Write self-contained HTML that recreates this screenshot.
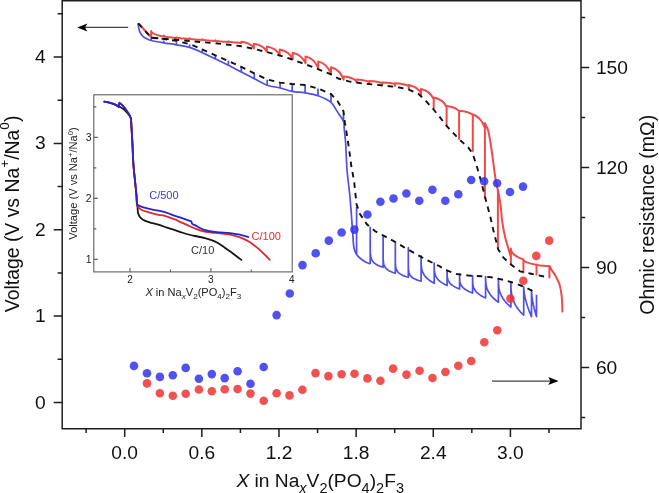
<!DOCTYPE html>
<html><head><meta charset="utf-8"><style>
html,body{margin:0;padding:0;background:#fff;width:659px;height:493px;overflow:hidden}
body{position:relative;font-family:"Liberation Sans",sans-serif}
</style></head><body>
<svg width="659" height="493" viewBox="0 0 659 493" style="position:absolute;left:0;top:0;will-change:transform">
<path d="M62.2,0.75 L581.0,0.75 M62.2,0 L62.2,428.7 M581.0,0 L581.0,428.7 M61.45,428.7 L581.75,428.7" stroke="#1e1e1e" stroke-width="1.5" fill="none"/>
<path d="M53.7,402.5 L62.2,402.5 M53.7,316.12 L62.2,316.12 M53.7,229.75 L62.2,229.75 M53.7,143.38 L62.2,143.38 M53.7,57 L62.2,57 M57.6,359.31 L62.2,359.31 M57.6,272.94 L62.2,272.94 M57.6,186.56 L62.2,186.56 M57.6,100.19 L62.2,100.19 M57.6,13.81 L62.2,13.81 M124.7,428.7 L124.7,436.9 M201.84,428.7 L201.84,436.9 M278.98,428.7 L278.98,436.9 M356.13,428.7 L356.13,436.9 M433.27,428.7 L433.27,436.9 M510.41,428.7 L510.41,436.9 M86.13,428.7 L86.13,433.0 M163.27,428.7 L163.27,433.0 M240.41,428.7 L240.41,433.0 M317.56,428.7 L317.56,433.0 M394.7,428.7 L394.7,433.0 M471.84,428.7 L471.84,433.0 M548.98,428.7 L548.98,433.0 M581.0,367.6 L589.2,367.6 M581.0,267.6 L589.2,267.6 M581.0,167.6 L589.2,167.6 M581.0,67.6 L589.2,67.6 M581.0,417.6 L585.2,417.6 M581.0,317.6 L585.2,317.6 M581.0,217.6 L585.2,217.6 M581.0,117.6 L585.2,117.6 M581.0,17.6 L585.2,17.6" stroke="#1e1e1e" stroke-width="1.5" fill="none"/>
<text x="45.7" y="408.6" font-family="Liberation Sans, sans-serif" font-size="19.2" text-anchor="end" fill="#111">0</text>
<text x="45.7" y="322.23" font-family="Liberation Sans, sans-serif" font-size="19.2" text-anchor="end" fill="#111">1</text>
<text x="45.7" y="235.85" font-family="Liberation Sans, sans-serif" font-size="19.2" text-anchor="end" fill="#111">2</text>
<text x="45.7" y="149.47" font-family="Liberation Sans, sans-serif" font-size="19.2" text-anchor="end" fill="#111">3</text>
<text x="45.7" y="63.1" font-family="Liberation Sans, sans-serif" font-size="19.2" text-anchor="end" fill="#111">4</text>
<text x="124.7" y="458.7" font-family="Liberation Sans, sans-serif" font-size="19.2" text-anchor="middle" fill="#111">0.0</text>
<text x="201.84" y="458.7" font-family="Liberation Sans, sans-serif" font-size="19.2" text-anchor="middle" fill="#111">0.6</text>
<text x="278.98" y="458.7" font-family="Liberation Sans, sans-serif" font-size="19.2" text-anchor="middle" fill="#111">1.2</text>
<text x="356.13" y="458.7" font-family="Liberation Sans, sans-serif" font-size="19.2" text-anchor="middle" fill="#111">1.8</text>
<text x="433.27" y="458.7" font-family="Liberation Sans, sans-serif" font-size="19.2" text-anchor="middle" fill="#111">2.4</text>
<text x="510.41" y="458.7" font-family="Liberation Sans, sans-serif" font-size="19.2" text-anchor="middle" fill="#111">3.0</text>
<text x="595.9" y="374.3" font-family="Liberation Sans, sans-serif" font-size="19.2" text-anchor="start" fill="#111">60</text>
<text x="595.9" y="274.3" font-family="Liberation Sans, sans-serif" font-size="19.2" text-anchor="start" fill="#111">90</text>
<text x="595.9" y="174.3" font-family="Liberation Sans, sans-serif" font-size="19.2" text-anchor="start" fill="#111">120</text>
<text x="595.9" y="74.3" font-family="Liberation Sans, sans-serif" font-size="19.2" text-anchor="start" fill="#111">150</text>
<text transform="translate(18.5,213.9) rotate(-90)" font-family="Liberation Sans, sans-serif" font-size="19.4" text-anchor="middle" fill="#111">Voltage (V vs Na<tspan font-size="13.6" dy="-9.4">+</tspan><tspan dy="9.4">/Na</tspan><tspan font-size="13.6" dy="-9.4">0</tspan><tspan dy="9.4">)</tspan></text>
<text transform="translate(654.4,214.8) rotate(-90)" font-family="Liberation Sans, sans-serif" font-size="19.5" text-anchor="middle" fill="#111">Ohmic resistance (mΩ)</text>
<text x="320.2" y="487" font-family="Liberation Sans, sans-serif" font-size="19.2" text-anchor="middle" fill="#111"><tspan font-style="italic">X</tspan> in Na<tspan font-size="14.5" font-style="italic" dy="5.5">x</tspan><tspan dy="-5.5">V</tspan><tspan font-size="14.5" dy="5.5">2</tspan><tspan dy="-5.5">(PO</tspan><tspan font-size="14.5" dy="5.5">4</tspan><tspan dy="-5.5">)</tspan><tspan font-size="14.5" dy="5.5">2</tspan><tspan dy="-5.5">F</tspan><tspan font-size="14.5" dy="5.5">3</tspan></text>
<path d="M84,27.4 L128.2,27.4" stroke="#444" stroke-width="1.2" fill="none"/>
<path d="M77.2,27.4 L87.4,23.6 L85,27.4 L87.4,31.4 Z" fill="#000"/>
<path d="M492,381.1 L552,381.1" stroke="#444" stroke-width="1.2" fill="none"/>
<path d="M558.6,381.1 L548.2,377 L550.5,381.1 L548.2,385.1 Z" fill="#000"/>
<rect x="93.8" y="94.8" width="198.4" height="177.1" fill="#fff" stroke="#5e5e5e" stroke-width="1.1"/>
<path d="M93.8,259.4 L97.8,259.4 M93.8,198.4 L97.8,198.4 M93.8,137.4 L97.8,137.4 M93.8,228.9 L96.3,228.9 M93.8,167.9 L96.3,167.9 M93.8,106.9 L96.3,106.9 M130,271.9 L130,267.9 M210.9,271.9 L210.9,267.9 M170.45,271.9 L170.45,269.4 M251.35,271.9 L251.35,269.4" stroke="#5e5e5e" stroke-width="1.1" fill="none"/>
<text x="130" y="282.8" font-family="Liberation Sans, sans-serif" font-size="10" text-anchor="middle" fill="#222">2</text>
<text x="210.9" y="282.8" font-family="Liberation Sans, sans-serif" font-size="10" text-anchor="middle" fill="#222">3</text>
<text x="291.8" y="282.8" font-family="Liberation Sans, sans-serif" font-size="10" text-anchor="middle" fill="#222">4</text>
<text x="91.6" y="263.1" font-family="Liberation Sans, sans-serif" font-size="10.4" text-anchor="end" fill="#222">1</text>
<text x="91.6" y="202.1" font-family="Liberation Sans, sans-serif" font-size="10.4" text-anchor="end" fill="#222">2</text>
<text x="91.6" y="141.1" font-family="Liberation Sans, sans-serif" font-size="10.4" text-anchor="end" fill="#222">3</text>
<text transform="translate(77.4,183.5) rotate(-90)" font-family="Liberation Sans, sans-serif" font-size="11.1" text-anchor="middle" fill="#222">Voltage (V vs Na<tspan font-size="7.6" dy="-4.6">+</tspan><tspan dy="4.6">/Na</tspan><tspan font-size="7.6" dy="-4.6">0</tspan><tspan dy="4.6">)</tspan></text>
<text x="193.3" y="296.4" font-family="Liberation Sans, sans-serif" font-size="11.1" text-anchor="middle" fill="#222"><tspan font-style="italic">X</tspan> in Na<tspan font-size="8" font-style="italic" dy="3">x</tspan><tspan dy="-3">V</tspan><tspan font-size="8" dy="3">2</tspan><tspan dy="-3">(PO</tspan><tspan font-size="8" dy="3">4</tspan><tspan dy="-3">)</tspan><tspan font-size="8" dy="3">2</tspan><tspan dy="-3">F</tspan><tspan font-size="8" dy="3">3</tspan></text>
<path d="M104.3,101.6C105.28,101.82 108.38,102.4 110.2,102.9C112.02,103.4 113.73,104.02 115.2,104.6C116.67,105.18 117.7,105.7 119,106.4C120.3,107.1 121.67,107.77 123,108.8C124.33,109.83 125.83,111.32 127,112.6C128.17,113.88 129.33,115.33 130,116.5C130.67,117.67 130.75,117.77 131,119.6C131.25,121.43 131.33,124.83 131.5,127.5C131.67,130.17 131.83,132.68 132,135.6C132.17,138.52 132.27,140.22 132.5,145C132.73,149.78 132.95,158.03 133.4,164.3C133.85,170.57 134.7,177.53 135.2,182.6C135.7,187.67 136.12,191.28 136.4,194.7C136.68,198.12 136.72,201.02 136.9,203.1C137.08,205.18 137.3,205.5 137.5,207.2C137.7,208.9 137.65,211.62 138.1,213.3C138.55,214.98 139.02,216.03 140.2,217.3C141.38,218.57 143,219.88 145.2,220.9C147.4,221.92 150.93,222.68 153.4,223.4C155.87,224.12 157.72,224.48 160,225.2C162.28,225.92 164.73,226.92 167.1,227.7C169.47,228.48 171.83,229.13 174.2,229.9C176.57,230.67 178.93,231.53 181.3,232.3C183.67,233.07 186.12,233.88 188.4,234.5C190.68,235.12 192.23,235.4 195,236C197.77,236.6 202.25,237.42 205,238.1C207.75,238.78 209.33,239.28 211.5,240.1C213.67,240.92 215.83,241.77 218,243C220.17,244.23 222.33,245.98 224.5,247.5C226.67,249.02 229.05,250.68 231,252.1C232.95,253.52 234.47,254.7 236.2,256C237.93,257.3 240.53,259.25 241.4,259.9" stroke="#161616" stroke-width="1.8" fill="none" stroke-linejoin="round" stroke-linecap="round"/>
<path d="M104.3,101.6C105.28,101.82 108.38,102.4 110.2,102.9C112.02,103.4 113.8,103.98 115.2,104.6C116.6,105.22 118.03,106.27 118.6,106.6 L119.3,103.2 C119.8,103.52 121.12,103.93 122.3,105.1C123.48,106.27 125.12,108.42 126.4,110.2C127.68,111.98 129.23,114.28 130,115.8C130.77,117.32 130.75,117.35 131,119.3C131.25,121.25 131.33,124.78 131.5,127.5C131.67,130.22 131.83,132.68 132,135.6C132.17,138.52 132.27,140.22 132.5,145C132.73,149.78 132.95,158.03 133.4,164.3C133.85,170.57 134.7,177.53 135.2,182.6C135.7,187.67 136.12,191.28 136.4,194.7C136.68,198.12 136.7,201.17 136.9,203.1C137.1,205.03 136.88,205.2 137.6,206.3C138.32,207.4 139.42,208.72 141.2,209.7C142.98,210.68 145.43,211.35 148.3,212.2C151.17,213.05 155.98,214.28 158.4,214.8C160.82,215.32 161.35,214.98 162.8,215.3C164.25,215.62 165.2,216.05 167.1,216.7C169,217.35 171.83,218.25 174.2,219.2C176.57,220.15 178.93,221.33 181.3,222.4C183.67,223.47 186.03,224.57 188.4,225.6C190.77,226.63 193.02,227.65 195.5,228.6C197.98,229.55 200.6,230.65 203.3,231.3C206,231.95 208.92,232.17 211.7,232.5C214.48,232.83 217.22,232.98 220,233.3C222.78,233.62 226.38,234.1 228.4,234.4C230.42,234.7 230.72,234.77 232.1,235.1C233.48,235.43 235.08,235.9 236.7,236.4C238.32,236.9 239.93,237.33 241.8,238.1C243.67,238.87 245.87,239.82 247.9,241C249.93,242.18 251.77,243.48 254,245.2C256.23,246.92 258.67,248.87 261.3,251.3C263.93,253.73 268.38,258.38 269.8,259.8" stroke="#dc2a2e" stroke-width="1.8" fill="none" stroke-linejoin="round" stroke-linecap="round"/>
<path d="M104.3,101.6C105.28,101.82 108.38,102.4 110.2,102.9C112.02,103.4 113.77,103.88 115.2,104.6C116.63,105.32 118.2,106.77 118.8,107.2 L119.3,102.6 C119.8,103.02 121.12,103.83 122.3,105.1C123.48,106.37 125.12,108.42 126.4,110.2C127.68,111.98 129.23,114.28 130,115.8C130.77,117.32 130.75,117.35 131,119.3C131.25,121.25 131.33,124.78 131.5,127.5C131.67,130.22 131.83,132.68 132,135.6C132.17,138.52 132.27,140.22 132.5,145C132.73,149.78 132.95,158.03 133.4,164.3C133.85,170.57 134.7,177.53 135.2,182.6C135.7,187.67 136.12,191.28 136.4,194.7C136.68,198.12 136.73,201.42 136.9,203.1C137.07,204.78 136.68,204.2 137.4,204.8C138.12,205.4 139.38,206.05 141.2,206.7C143.02,207.35 145.43,208.03 148.3,208.7C151.17,209.37 155.27,210.02 158.4,210.7C161.53,211.38 164.47,211.97 167.1,212.8C169.73,213.63 171.83,214.87 174.2,215.7C176.57,216.53 178.93,217.03 181.3,217.8C183.67,218.57 186.73,219.72 188.4,220.3C190.07,220.88 190.82,221.13 191.3,221.3 L192,223.8 C192.58,224.07 193.62,224.43 195.5,225.4C197.38,226.37 200.6,228.58 203.3,229.6C206,230.62 208.92,231.03 211.7,231.5C214.48,231.97 217.22,232.17 220,232.4C222.78,232.63 225.62,232.6 228.4,232.9C231.18,233.2 234.37,233.78 236.7,234.2C239.03,234.62 240.45,234.92 242.4,235.4C244.35,235.88 247.4,236.82 248.4,237.1" stroke="#2626cc" stroke-width="1.8" fill="none" stroke-linejoin="round" stroke-linecap="round"/>
<text x="149.2" y="199.3" font-family="Liberation Sans, sans-serif" font-size="11" fill="#3a3ae0">C/500</text>
<text x="251.6" y="240.2" font-family="Liberation Sans, sans-serif" font-size="11" fill="#e03030">C/100</text>
<text x="191.1" y="254.3" font-family="Liberation Sans, sans-serif" font-size="11" fill="#333">C/10</text>
<path d="M138.2,23.3C138.25,23.93 138.17,25.55 138.5,27.1C138.83,28.65 139.32,30.93 140.2,32.6C141.08,34.27 142.43,35.97 143.8,37.1C145.17,38.23 147.17,38.83 148.4,39.4C149.63,39.97 148.65,39.93 151.2,40.5C153.75,41.07 159.5,42.08 163.7,42.8C167.9,43.52 172.08,44.03 176.4,44.8C180.72,45.57 185.27,46.1 189.6,47.4C193.93,48.7 198.1,50.67 202.4,52.6C206.7,54.53 211.07,56.88 215.4,59C219.73,61.12 224.08,63.13 228.4,65.3C232.72,67.47 236.98,69.75 241.3,72C245.62,74.25 249.98,76.6 254.3,78.8C258.62,81 262.9,83.67 267.2,85.2C271.5,86.73 275.93,86.97 280.1,88C284.27,89.03 288.03,90.58 292.2,91.4C296.37,92.22 300.8,92.17 305.1,92.9C309.4,93.63 313.68,94.22 318,95.8C322.32,97.38 327.82,99.8 331,102.4C334.18,105 335.02,108.25 337.1,111.4C339.18,114.55 342.32,118.47 343.5,121.3C344.68,124.13 343.85,124.85 344.2,128.4C344.55,131.95 345.25,137.87 345.6,142.6C345.95,147.33 346.03,151.9 346.3,156.8C346.57,161.7 346.58,165.22 347.2,172C347.82,178.78 349.12,187.85 350,197.5C350.88,207.15 351.85,221.53 352.5,229.9C353.15,238.27 353.22,243.6 353.9,247.7C354.58,251.8 355.38,252.6 356.6,254.5C357.82,256.4 359.63,257.8 361.2,259.1C362.77,260.4 365.2,261.77 366,262.3 L370.2,264 M151.2,40.5 L151.2,38.2 M163.7,42.8 L163.7,40.5 M176.4,44.8 L176.4,42.3 M189.6,47.4 L189.6,44.5 M202.4,52.6 L202.4,48.8 M215.4,59 L215.4,55.2 M228.4,65.3 L228.4,60.8 M241.3,72 L241.3,66.6 M254.3,78.8 L254.3,73.5 M267.2,85.2 L267.2,79.8 M280.1,88 L280.1,82.4 M292.2,91.4 L292.2,84.1 M305.1,92.9 L305.1,84.9 M318,95.8 L318,88.5 M331,102.4 L331,93.3 M343.5,121.3 L343.5,113.5 M356.6,254.5 L356.6,207 M370.2,264 L370.2,264 L370.2,227.4 L370.26,250.89 L370.39,253.62 L370.59,255.5 L370.84,256.97 L371.23,258.39 L371.75,259.68 L372.52,261.01 L373.55,262.27 L374.84,263.42 L376.39,264.48 L378.2,265.44 L380.52,266.42 L383.1,267.3 L383.1,267.3 L383.1,236.5 L383.16,258.16 L383.28,260.68 L383.47,262.42 L383.71,263.77 L384.08,265.09 L384.56,266.27 L385.3,267.5 L386.27,268.66 L387.49,269.73 L388.96,270.7 L390.66,271.58 L392.86,272.49 L395.3,273.3 L395.3,273.3 L395.3,242 L395.37,262.78 L395.5,265.19 L395.69,266.86 L395.95,268.16 L396.34,269.42 L396.86,270.56 L397.64,271.74 L398.68,272.85 L399.98,273.87 L401.54,274.8 L403.36,275.65 L405.7,276.52 L408.3,277.3 L408.3,277.3 L408.3,247.7 L408.36,267.42 L408.49,269.71 L408.68,271.29 L408.94,272.53 L409.32,273.72 L409.84,274.8 L410.6,275.92 L411.63,276.98 L412.91,277.95 L414.44,278.83 L416.24,279.64 L418.54,280.46 L421.1,281.2 L421.1,281.2 L421.1,255.9 L421.17,263.19 L421.3,265.49 L421.49,267.3 L421.75,268.86 L422.15,270.47 L422.67,272.03 L423.46,273.75 L424.51,275.47 L425.82,277.12 L427.39,278.71 L429.22,280.21 L431.58,281.81 L434.2,283.3 L434.2,283.3 L434.2,263 L434.26,268.96 L434.39,270.84 L434.59,272.32 L434.84,273.59 L435.23,274.91 L435.75,276.18 L436.52,277.59 L437.55,279 L438.84,280.35 L440.39,281.64 L442.2,282.88 L444.52,284.18 L447.1,285.4 L447.1,285.4 L447.1,270.3 L447.16,275.27 L447.29,276.84 L447.48,278.08 L447.73,279.14 L448.1,280.25 L448.6,281.31 L449.35,282.48 L450.35,283.65 L451.6,284.78 L453.1,285.87 L454.85,286.89 L457.1,287.99 L459.6,289 L459.6,289 L459.6,274 L459.67,279.05 L459.8,280.65 L459.99,281.91 L460.25,282.98 L460.64,284.1 L461.16,285.18 L461.94,286.38 L462.98,287.57 L464.28,288.72 L465.84,289.81 L467.66,290.86 L470,291.97 L472.6,293 L472.6,293 L472.6,275.6 L472.67,281.53 L472.8,283.4 L472.99,284.88 L473.25,286.15 L473.64,287.46 L474.16,288.73 L474.94,290.13 L475.98,291.52 L477.28,292.87 L478.84,294.16 L480.66,295.39 L483,296.69 L485.6,297.9 L485.6,297.9 L485.6,276.6 L485.66,280.61 L485.79,282.49 L485.98,284.1 L486.24,285.57 L486.62,287.18 L487.14,288.79 L487.9,290.65 L488.93,292.58 L490.21,294.5 L491.74,296.4 L493.54,298.26 L495.84,300.28 L498.4,302.2 L498.4,302.2 L498.4,278.5 L498.46,282.96 L498.59,285.05 L498.77,286.85 L499.02,288.49 L499.4,290.27 L499.9,292.07 L500.65,294.14 L501.65,296.29 L502.9,298.43 L504.4,300.54 L506.15,302.61 L508.4,304.86 L510.9,307 L510.9,307 L510.9,281.8 L510.96,287.03 L511.09,289.48 L511.28,291.59 L511.54,293.51 L511.92,295.6 L512.44,297.7 L513.2,300.13 L514.23,302.64 L515.51,305.16 L517.04,307.63 L518.84,310.05 L521.14,312.69 L523.7,315.2 L523.7,315.2 L523.7,286.9 L523.74,288.14 L523.82,289.29 L523.93,290.52 L524.09,291.82 L524.32,293.43 L524.64,295.22 L525.1,297.51 L525.73,300.14 L526.51,302.99 L527.44,306.02 L528.54,309.19 L529.94,312.88 L531.5,316.6 L531.5,316.6 L531.5,290.1 L531.52,291.2 L531.58,292.23 L531.65,293.33 L531.75,294.49 L531.9,295.92 L532.1,297.53 L532.4,299.57 L532.8,301.91 L533.3,304.46 L533.9,307.16 L534.6,309.99 L535.5,313.28 L536.5,316.6 L536.5,316.6 L536.5,295.1" stroke="#5050e4" stroke-width="1.7" fill="none" stroke-linejoin="round"/>
<path d="M138.2,23.3 L151.2,37.3 L151.2,37.3 L151.2,30.9 L151.33,31.62 L151.58,32.08 L151.96,32.51 L152.47,32.92 L153.23,33.4 L154.25,33.9 L155.52,34.41 L157.04,34.92 L158.82,35.43 L161.11,36 L163.9,36.6 L163.9,36.6 L163.9,35.6 L164.03,35.9 L164.28,36.1 L164.65,36.28 L165.15,36.45 L165.9,36.65 L166.9,36.86 L168.15,37.08 L169.65,37.29 L171.4,37.51 L173.65,37.75 L176.4,38 L176.4,38 L176.4,37.2 L176.53,37.41 L176.8,37.55 L177.19,37.68 L177.72,37.8 L178.51,37.95 L179.57,38.09 L180.89,38.25 L182.47,38.4 L184.32,38.55 L186.7,38.72 L189.6,38.9 L189.6,38.9 L189.6,38.3 L189.73,38.51 L189.98,38.65 L190.37,38.78 L190.88,38.9 L191.65,39.05 L192.67,39.19 L193.95,39.35 L195.49,39.5 L197.28,39.65 L199.58,39.82 L202.4,40 L202.4,40 L202.4,39.3 L202.53,39.51 L202.79,39.65 L203.18,39.78 L203.7,39.9 L204.48,40.05 L205.52,40.19 L206.82,40.35 L208.38,40.5 L210.2,40.65 L212.54,40.82 L215.4,41 L215.4,41 L215.4,40.3 L215.53,40.51 L215.79,40.65 L216.18,40.78 L216.7,40.9 L217.48,41.05 L218.52,41.19 L219.82,41.35 L221.38,41.5 L223.2,41.65 L225.54,41.82 L228.4,42 L228.4,42 L228.4,41.2 L228.53,41.41 L228.79,41.55 L229.18,41.68 L229.7,41.8 L230.48,41.95 L231.52,42.09 L232.82,42.25 L234.38,42.4 L236.2,42.55 L238.54,42.72 L241.4,42.9 L241.4,42.9 L241.4,41.8 C246.4,42.41 251.4,44.54 253.9,47.9 L253.9,48.5 L253.9,43.7 C259.06,44.47 264.22,47.16 266.8,51.4 L266.8,51.8 L266.8,46.4 C271.96,47.26 277.12,50.27 279.7,55 L279.7,55.5 L279.7,49.6 C284.9,50.54 290.1,53.83 292.7,59 L292.7,59.3 L292.7,52.7 C297.82,53.75 302.94,57.43 305.5,63.2 L305.5,63.2 L305.5,56.4 C310.58,57.58 315.66,61.71 318.2,68.2 L318.2,68.2 L318.2,61.4 C323.32,62.67 328.44,67.11 331,74.1 L331,74.1 L331,67.3 C336.04,68.51 341.08,72.75 343.6,79.4 L343.6,79.8 L343.6,76.6 C348.68,77.04 353.76,78.58 356.3,81 L356.3,82.1 L356.3,79.4 C361.46,79.66 366.62,80.57 369.2,82 L369.2,83.4 L369.2,81 C374.36,81.22 379.52,81.99 382.1,83.2 L382.1,84.6 L382.1,82.5 C387.26,82.65 392.42,83.17 395,84 L395,86 L395,83.3 C400.52,83.57 406.04,84.52 408.8,86 L408.8,88.9 L408.8,85 C413.68,85.83 418.56,88.73 421,93.3 L421,95 L421,89 C426.08,90.03 431.16,93.64 433.7,99.3 L433.7,109 L433.7,97.5 C438.86,98.45 444.02,101.78 446.6,107 L446.6,125.5 L446.6,105.9 C451.6,106.42 456.6,108.24 459.1,111.1 L459.1,139.1 L459.1,110.7 C464.58,111.1 470.06,112.5 472.8,114.7 L472.8,151 L472.8,114.3 C473.38,114.6 475.05,115.2 476.3,116.1C477.55,117 479.22,118.48 480.3,119.7C481.38,120.92 482.03,122.02 482.8,123.4C483.57,124.78 484.55,127.23 484.9,128 L484.9,198 L484.9,123.1 C485.45,124.37 487.23,127.22 488.2,130.7C489.17,134.18 489.88,138.93 490.7,144C491.52,149.07 492.5,156.77 493.1,161.1C493.7,165.43 493.82,166.52 494.3,170C494.78,173.48 495.4,178.58 496,182C496.6,185.42 497.58,189.08 497.9,190.5 L497.9,248.5 L497.9,189.5 C498.33,192.08 499.77,199.58 500.5,205C501.23,210.42 501.55,216.75 502.3,222C503.05,227.25 503.95,231.93 505,236.5C506.05,241.07 507.62,245.98 508.6,249.4C509.58,252.82 510.52,255.73 510.9,257 L510.9,264.5 L510.9,248.6 L511.02,249.98 L511.27,250.87 L511.65,251.7 L512.15,252.5 L512.9,253.42 L513.9,254.39 L515.15,255.37 L516.65,256.36 L518.4,257.34 L520.65,258.44 L523.4,259.6 L523.4,272.4 L523.4,259.2 L523.53,259.9 L523.79,260.36 L524.19,260.78 L524.71,261.19 L525.5,261.65 L526.54,262.15 L527.85,262.65 L529.43,263.15 L531.26,263.65 L533.62,264.21 L536.5,264.8 L536.5,274.6 L536.5,264.5 L536.63,264.71 L536.89,264.85 L537.27,264.98 L537.79,265.1 L538.56,265.25 L539.6,265.39 L540.89,265.55 L542.43,265.7 L544.24,265.85 L546.56,266.02 L549.4,266.2 L549.4,277.6 L549.4,266 C549.8,266.7 550.83,268.67 551.8,270.2C552.77,271.73 554.23,273.57 555.2,275.2C556.17,276.83 556.9,278.53 557.6,280C558.3,281.47 558.83,282.12 559.4,284C559.97,285.88 560.57,288.63 561,291.3C561.43,293.97 561.77,296.48 562,300C562.23,303.52 562.33,310.33 562.4,312.4" stroke="#ee4b4b" stroke-width="2" fill="none" stroke-linejoin="round"/>
<path d="M138.2,23.3 L151.2,37.7 L165,38.8 L177.5,39.9 L190,41 L202.4,42.2 L215.4,43.3 L229.1,44.8 L241.3,46.2 L254.3,49 L267.2,52.2 L280.1,55.6 L292.2,59.5 L305.1,64.2 L318,69.1 L331,74.4 L338.4,78.5 L348.7,81.4 L362.3,83.4 L376,84.8 L389.6,86.2 L399.2,87.5 L408.8,89.6 L418.3,93.7 L426.3,101.4 L433.2,109 L440,117.4 L446.8,126.2 L459,139.1 L468.2,147.5 L472.7,153.6 L477.3,168 L481.1,181.3 L485.7,199.6 L490.2,216.3 L494,233 L495.9,240.2 L498.2,249.4 L503.5,257.7 L511.1,264.6 L520.2,271.4 L530.9,273.7 L549,277.6" stroke="#111" stroke-width="1.9" fill="none" stroke-dasharray="5.5 5"/>
<path d="M151.2,37.7 L163.2,38.9 L176.4,40.9 L189.6,44.1 L200.2,48.4 L215.4,55.3 L229.1,61.4 L241.3,66.9 L254.3,73.4 L267.2,79.4 L280.1,82.6 L292.2,84 L305.1,85 L318,88.5 L331,94 L337.8,101.5 L343.5,111.4 L344.9,122.7 L347,135.5 L349.2,149.7 L351.3,166 L354.1,181.2 L356.5,204 L359.8,213.7 L367.1,224.5 L375.2,231.3 L384.9,236.4 L396.3,242.5 L403.4,246.9 L416.4,254.2 L424.7,258.9 L439.4,266.2 L445.8,270 L456.4,274 L468.6,275.6 L481.6,276.3 L491.4,277.3 L503.5,279.9 L515.5,283.4 L526.2,287.7 L531.5,290.5 L536,294.6" stroke="#111" stroke-width="1.9" fill="none" stroke-dasharray="5.5 5"/>
<g fill-opacity="0.85" fill="#3232ec"><circle cx="134" cy="365.9" r="4.3"/><circle cx="147" cy="373.2" r="4.3"/><circle cx="159.9" cy="376.9" r="4.3"/><circle cx="172.8" cy="375.2" r="4.3"/><circle cx="185.7" cy="367.9" r="4.3"/><circle cx="198.9" cy="378.8" r="4.3"/><circle cx="211.8" cy="374.1" r="4.3"/><circle cx="224.7" cy="378.1" r="4.3"/><circle cx="237.6" cy="371.3" r="4.3"/><circle cx="250.5" cy="383.7" r="4.3"/><circle cx="263.7" cy="367" r="4.3"/><circle cx="276.6" cy="315.1" r="4.3"/><circle cx="289.8" cy="293.5" r="4.3"/><circle cx="302.5" cy="265.1" r="4.3"/><circle cx="315.7" cy="253.3" r="4.3"/><circle cx="328.8" cy="240.6" r="4.3"/><circle cx="341.6" cy="232.5" r="4.3"/><circle cx="354.4" cy="229.6" r="4.3"/><circle cx="367.4" cy="214.5" r="4.3"/><circle cx="380.4" cy="201.7" r="4.3"/><circle cx="393.5" cy="198.5" r="4.3"/><circle cx="406.4" cy="193.5" r="4.3"/><circle cx="419.3" cy="200.7" r="4.3"/><circle cx="432.4" cy="189.7" r="4.3"/><circle cx="445.3" cy="200.8" r="4.3"/><circle cx="458.3" cy="194.3" r="4.3"/><circle cx="471.2" cy="180" r="4.3"/><circle cx="484.1" cy="181.3" r="4.3"/><circle cx="497.1" cy="183.3" r="4.3"/><circle cx="510" cy="192" r="4.3"/><circle cx="523" cy="186.6" r="4.3"/></g>
<g fill-opacity="0.85" fill="#ed3232"><circle cx="147" cy="383.4" r="4.3"/><circle cx="159.9" cy="393.2" r="4.3"/><circle cx="172.8" cy="395.8" r="4.3"/><circle cx="185.7" cy="393.7" r="4.3"/><circle cx="198.9" cy="389.5" r="4.3"/><circle cx="211.8" cy="391.2" r="4.3"/><circle cx="224.7" cy="389.3" r="4.3"/><circle cx="237.6" cy="389" r="4.3"/><circle cx="250.5" cy="393.6" r="4.3"/><circle cx="263.7" cy="400.8" r="4.3"/><circle cx="276.6" cy="393.3" r="4.3"/><circle cx="289.5" cy="395.4" r="4.3"/><circle cx="302.4" cy="389.8" r="4.3"/><circle cx="315.5" cy="373.1" r="4.3"/><circle cx="328.4" cy="376.1" r="4.3"/><circle cx="341.6" cy="374.3" r="4.3"/><circle cx="354.5" cy="373.8" r="4.3"/><circle cx="367.4" cy="378.4" r="4.3"/><circle cx="380.4" cy="380.8" r="4.3"/><circle cx="393.1" cy="368.6" r="4.3"/><circle cx="406.5" cy="374.6" r="4.3"/><circle cx="419.6" cy="370.8" r="4.3"/><circle cx="432.5" cy="378" r="4.3"/><circle cx="445.4" cy="372" r="4.3"/><circle cx="458.3" cy="365.8" r="4.3"/><circle cx="471.2" cy="361" r="4.3"/><circle cx="484.3" cy="342.3" r="4.3"/><circle cx="497.3" cy="330.3" r="4.3"/><circle cx="510.4" cy="298.6" r="4.3"/><circle cx="523.3" cy="280.7" r="4.3"/><circle cx="536.3" cy="255.9" r="4.3"/><circle cx="549.2" cy="240.6" r="4.3"/></g>
</svg>
</body></html>
